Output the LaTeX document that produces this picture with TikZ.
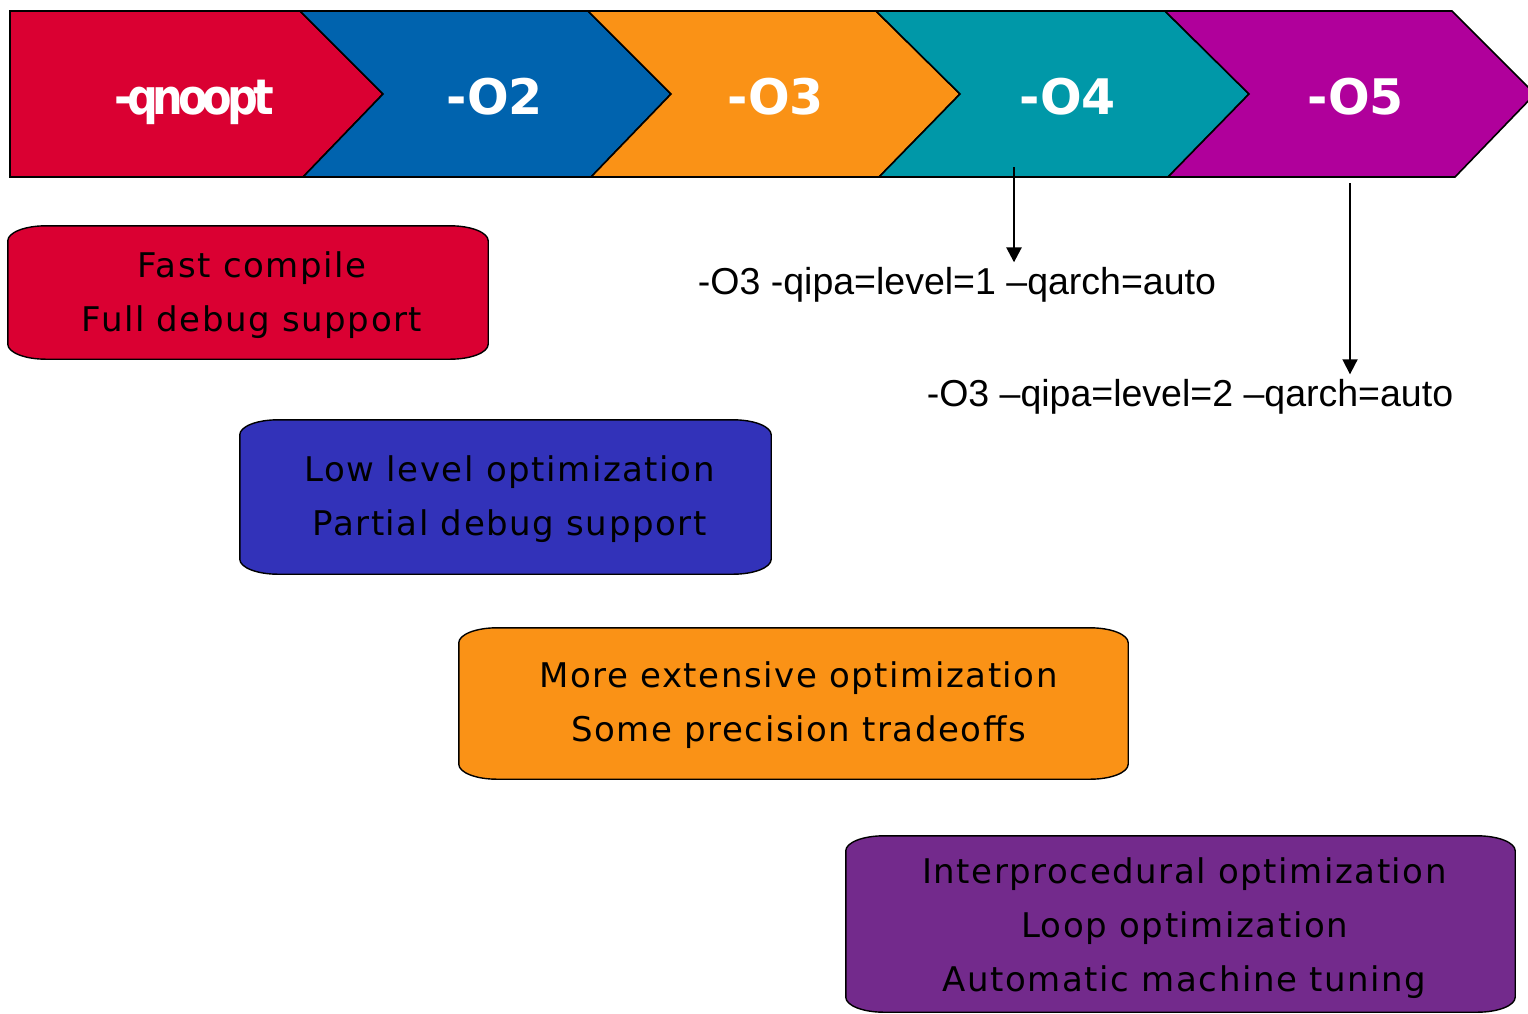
\documentclass[tikz,border=0pt]{standalone}
\usepackage{fontspec}
\setmainfont{DejaVu Sans}
\newfontfamily\cmdfont{Liberation Sans}
\newfontfamily\boxfont[LetterSpace=4.5]{DejaVu Sans}
\newfontfamily\tightfont[LetterSpace=-12]{DejaVu Sans}
\usetikzlibrary{arrows.meta}

\definecolor{lvred}{RGB}{218,0,50}
\definecolor{lvblue}{RGB}{0,99,174}
\definecolor{lvorange}{RGB}{250,146,22}
\definecolor{lvteal}{RGB}{0,152,168}
\definecolor{lvpurple}{RGB}{176,0,155}
\definecolor{boxblue}{RGB}{50,50,185}
\definecolor{boxpurple}{RGB}{115,42,140}

% outline of a description box: straight sides, flattened elliptic corners
\newcommand\softbox[2]{%
  \path[draw=black, line width=1.4pt, fill=#2]
    ([xshift=38pt]#1.north west) -- ([xshift=-38pt]#1.north east)
    arc[start angle=90, end angle=0, x radius=38pt, y radius=15pt]
    -- ([yshift=15pt]#1.south east)
    arc[start angle=0, end angle=-90, x radius=38pt, y radius=15pt]
    -- ([xshift=38pt]#1.south west)
    arc[start angle=-90, end angle=-180, x radius=38pt, y radius=15pt]
    -- ([yshift=-15pt]#1.north west)
    arc[start angle=180, end angle=90, x radius=38pt, y radius=15pt] -- cycle;}

\begin{document}
\begin{tikzpicture}[x=1pt, y=-1pt,
  chevron/.style={draw=black, line width=1.6pt, line join=miter},
  level/.style={text=white, font=\fontsize{49}{58}\selectfont\bfseries, anchor=base, inner sep=0pt},
  descbox/.style={rectangle, inner sep=0pt, align=center,
    font=\boxfont\fontsize{34}{54}\selectfont},
  cmd/.style={font=\cmdfont\fontsize{37.5}{45}\selectfont, anchor=base,
    inner sep=0pt, outer sep=4.5pt},
  flag/.style={-{Triangle[width=15pt, length=15pt]}, black}]
\useasboundingbox (0,0) rectangle (1528,1013);

% optimisation level band
\path[chevron, fill=lvred]
  (10,11) -- (300,11) -- (383,94) -- (303,177) -- (10,177) -- cycle;
\path[chevron, fill=lvblue]
  (300,11) -- (588,11) -- (671,94) -- (591,177) -- (303,177) -- (383,94) -- cycle;
\path[chevron, fill=lvorange]
  (588,11) -- (876,11) -- (960,94) -- (879,177) -- (591,177) -- (671,94) -- cycle;
\path[chevron, fill=lvteal]
  (876,11) -- (1165,11) -- (1249,94) -- (1168,177) -- (879,177) -- (960,94) -- cycle;
\path[chevron, fill=lvpurple]
  (1165,11) -- (1452,11) -- (1535,94) -- (1455,177) -- (1168,177) -- (1249,94) -- cycle;

\node[level] (lq) at (194,114) {\scalebox{0.88}[1]{\tightfont\bfseries -qnoopt}};
\node[level] (l2) at (495,114) {-O2};
\node[level] (l3) at (776,114) {-O3};
\node[level] (l4) at (1068,114) {-O4};
\node[level] (l5) at (1356,114) {-O5};

% option strings behind -O4 and -O5
\coordinate (a4) at (1014,167);
\coordinate (a5) at (1350,183);
\node[cmd] (c4) at (957,294) {-O3 -qipa=level=1 –qarch=auto};
\node[cmd] (c5) at (1190,406) {-O3 –qipa=level=2 –qarch=auto};
\draw[flag, line width=2.6pt] (a4) -- (a4 |- c4.north);
\draw[flag, line width=1.8pt] (a5) -- (a5 |- c5.north);

% what each level does
\node[descbox, minimum width=480pt, minimum height=133pt] (bq) at (248,292.5) {};
\softbox{bq}{lvred}
\node[descbox] at ([shift={(4,3)}]bq.center) {Fast compile\\Full debug support};

\node[descbox, minimum width=531pt, minimum height=154pt] (b2) at (505.5,497) {};
\softbox{b2}{boxblue}
\node[descbox] at ([shift={(4,2)}]b2.center) {Low level optimization\\Partial debug support};

\node[descbox, minimum width=669pt, minimum height=151pt] (b3) at (793.5,703.5) {};
\softbox{b3}{lvorange}
\node[descbox] at ([shift={(5,2)}]b3.center) {More extensive optimization\\Some precision tradeoffs};

\node[descbox, minimum width=669pt, minimum height=176pt] (b4) at (1180.5,924) {};
\softbox{b4}{boxpurple}
\node[descbox] at ([shift={(4,4)}]b4.center) {Interprocedural optimization\\Loop optimization\\Automatic machine tuning};
\end{tikzpicture}
\end{document}
